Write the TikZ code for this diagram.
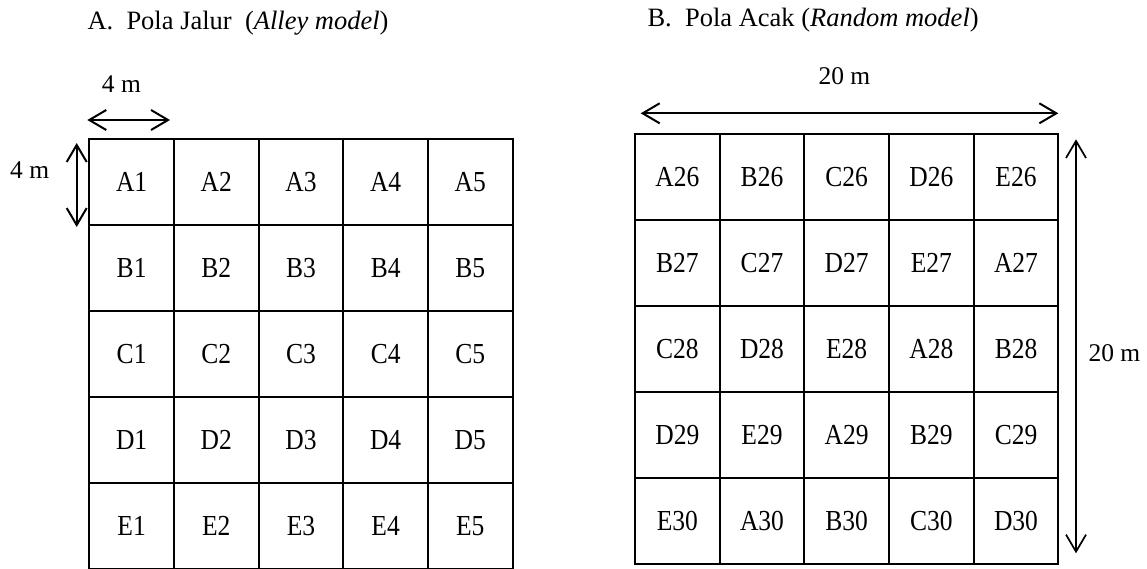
\documentclass[tikz,border=0pt]{standalone}
\usepackage{fontspec}
\setmainfont{Liberation Serif}
\newfontfamily\cellfont[FakeStretch=0.88]{Liberation Serif}
\usetikzlibrary{arrows.meta}
\begin{document}
\begin{tikzpicture}[x=1pt,y=-1pt,
  cell/.style={draw, line width=2pt, minimum width=84.67pt, minimum height=86pt, inner sep=0pt,
    font=\cellfont\fontsize{29}{31}\selectfont},
  dimarrow/.style={line width=2pt, {Straight Barb[length=17pt,width=20pt]}-{Straight Barb[length=17pt,width=20pt]}},
  lab/.style={anchor=base west, inner sep=0pt, font=\fontsize{25.5}{27}\selectfont},
  ttl/.style={anchor=base west, inner sep=0pt, font=\fontsize{26.5}{28}\selectfont}]
\useasboundingbox (0,0) rectangle (1147,568);
% titles
\node[ttl] (tA) at (87.3,29.3) {A.\hspace{0.5em}Pola Jalur\hspace{0.5em}(\textit{Alley model})};
\node[ttl] (tB) at (647.3,26) {B.\hspace{0.5em}Pola Acak (\textit{Random model})};
% left grid
\foreach \t [count=\i from 0] in {A1,A2,A3,A4,A5,B1,B2,B3,B4,B5,C1,C2,C3,C4,C5,D1,D2,D3,D4,D5,E1,E2,E3,E4,E5} {
  \pgfmathtruncatemacro\rr{int(\i/5)}
  \pgfmathtruncatemacro\cc{mod(\i,5)}
  \node[cell] (L\t) at ({89.3+84.67*(\cc+0.5)},{139+86*(\rr+0.5)}) {\t};
}
% right grid
\foreach \t [count=\i from 0] in {A26,B26,C26,D26,E26,B27,C27,D27,E27,A27,C28,D28,E28,A28,B28,D29,E29,A29,B29,C29,E30,A30,B30,C30,D30} {
  \pgfmathtruncatemacro\rr{int(\i/5)}
  \pgfmathtruncatemacro\cc{mod(\i,5)}
  \node[cell] (R\t) at ({635+84.67*(\cc+0.5)},{134+86*(\rr+0.5)}) {\t};
}
% dimension arrows
\coordinate (h1) at (87.3,120);
\coordinate (h2) at (170,120);
\draw[dimarrow] (h1) -- (h2);
\coordinate (v1) at (76.7,143);
\coordinate (v2) at (76.7,227);
\draw[dimarrow] (v1) -- (v2);
\coordinate (H1) at (640.7,113.3);
\coordinate (H2) at (1058.3,113.3);
\draw[dimarrow] (H1) -- (H2);
\coordinate (V1) at (1076,139.3);
\coordinate (V2) at (1076,553.3);
\draw[dimarrow, line width=1.7pt] (V1) -- (V2);
% labels
\node[lab] (l4a) at (101.7,92.7) {4 m};
\node[lab] (l4b) at (10,178.3) {4 m};
\node[lab] (l20a) at (818.3,84) {20 m};
\node[lab] (l20b) at (1088.3,361) {20 m};
\end{tikzpicture}
\end{document}
